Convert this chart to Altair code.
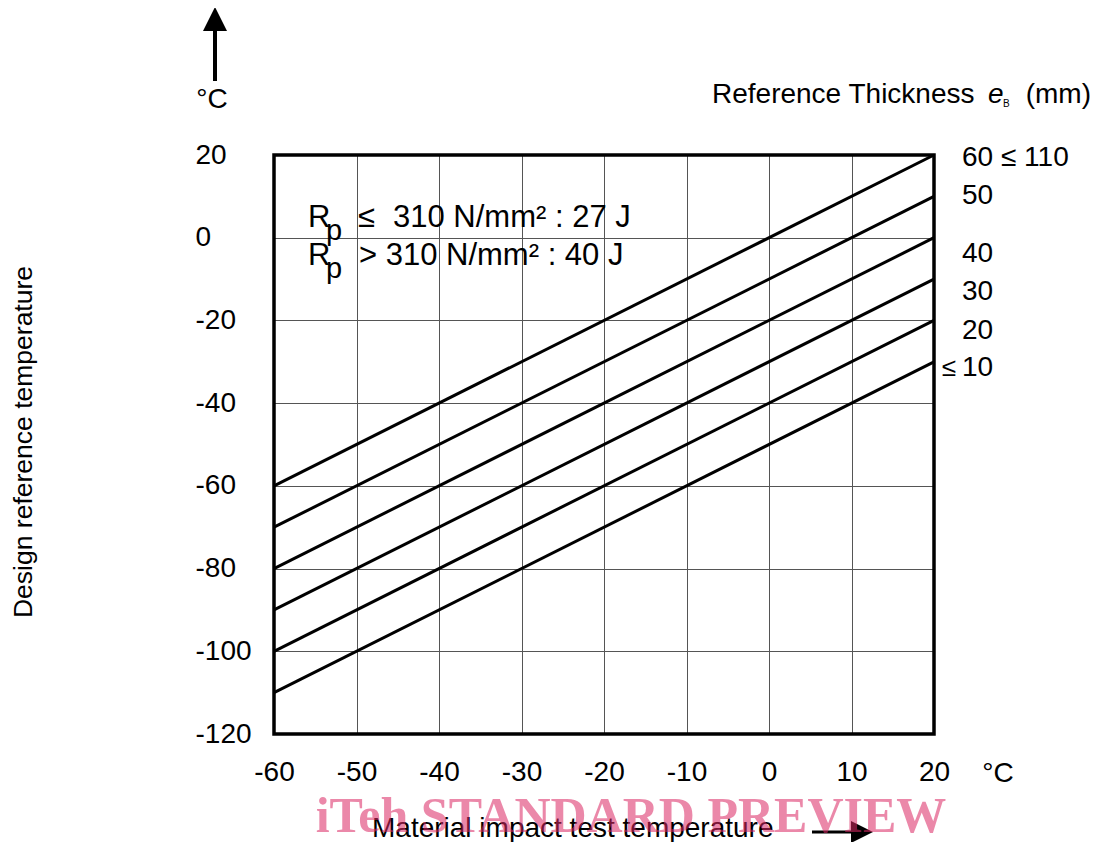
import altair as alt
import pandas as pd

# ---- data -------------------------------------------------------------
x_min, x_max = -60, 20
y_min, y_max = -120, 20
x_ticks = [-60, -50, -40, -30, -20, -10, 0, 10, 20]
y_ticks = [-120, -100, -80, -60, -40, -20, 0, 20]

thickness_labels = ["60 ≤ 110", "50", "40", "30", "20", "10"]
design_at_minus60 = [-60, -70, -80, -90, -100, -110]
design_at_20 = [20, 10, 0, -10, -20, -30]
label_y = [19.3, 10.1, -4.0, -13.2, -22.6, -31.5]

# ---- layout -------------------------------------------------------------
FONT = "Liberation Sans"
W, H = 660, 579
OX, OY = 274, 155          # absolute page position of plot origin
PAD_L, PAD_T = OX - 8, OY - 8
TOTAL_W, TOTAL_H = 1084, 834

lines_df = pd.DataFrame({
    "thickness": thickness_labels,
    "x1": [x_min] * len(thickness_labels),
    "x2": [x_max] * len(thickness_labels),
    "y1": design_at_minus60,
    "y2": design_at_20,
})
labels_df = pd.DataFrame({"t": thickness_labels, "y": label_y, "x": [x_max] * len(thickness_labels)})

xscale = alt.Scale(domain=[x_min, x_max], nice=False, zero=False)
yscale = alt.Scale(domain=[y_min, y_max], nice=False, zero=False)

lines = alt.Chart(lines_df).mark_rule(color="black", strokeWidth=3).encode(
    x=alt.X("x1:Q", scale=xscale, title="",
            axis=alt.Axis(values=x_ticks, grid=True, gridColor="#555", gridWidth=1,
                          domain=False, ticks=False, tickSize=0, labelFont=FONT,
                          labelFontSize=28, labelColor="black", labelPadding=38,
                          labelBaseline="middle", labelFlush=False, labelOverlap=False,
                          labelExpr="'' + datum.value")),
    x2="x2:Q",
    y=alt.Y("y1:Q", scale=yscale, title="",
            axis=alt.Axis(values=y_ticks, grid=True, gridColor="#555", gridWidth=1,
                          domain=False, ticks=False, tickSize=0, labelFont=FONT,
                          labelFontSize=28, labelColor="black", labelPadding=79,
                          labelAlign="left", labelBaseline="middle", labelFlush=False,
                          labelOverlap=False, labelExpr="'' + datum.value")),
    y2="y2:Q",
)

frame = alt.Chart(pd.DataFrame({"a": [0]})).mark_rect(
    fill="transparent", stroke="black", strokeWidth=3.5
).encode(x=alt.datum(x_min), x2=alt.datum(x_max), y=alt.datum(y_min), y2=alt.datum(y_max))

right_labels = alt.Chart(labels_df).mark_text(
    align="left", baseline="middle", dx=28, fontSize=28, font=FONT, color="black"
).encode(x=alt.X("x:Q", scale=xscale), y=alt.Y("y:Q", scale=yscale), text="t:N")

le_label = alt.Chart(labels_df.tail(1)).mark_text(
    align="right", baseline="middle", dx=22, fontSize=26, font=FONT, color="black", text="≤"
).encode(x=alt.X("x:Q", scale=xscale), y=alt.Y("y:Q", scale=yscale))


def ann(text, xa, ya, size=28, align="left", baseline="alphabetic", **kw):
    return alt.Chart(pd.DataFrame({"t": [text]})).mark_text(
        align=align, baseline=baseline, fontSize=size, font=FONT, color="black", **kw
    ).encode(x=alt.value(xa - OX), y=alt.value(ya - OY), text="t:N")


def vrule(xa, ya1, ya2, w=4):
    return alt.Chart(pd.DataFrame({"a": [0]})).mark_rule(color="black", strokeWidth=w).encode(
        x=alt.value(xa - OX), y=alt.value(ya1 - OY), y2=alt.value(ya2 - OY))


def hrule(xa1, xa2, ya, w=3):
    return alt.Chart(pd.DataFrame({"a": [0]})).mark_rule(color="black", strokeWidth=w).encode(
        x=alt.value(xa1 - OX), x2=alt.value(xa2 - OX), y=alt.value(ya - OY))


def head(shape, xa, ya, side):
    return alt.Chart(pd.DataFrame({"a": [0]})).mark_point(
        shape=shape, filled=True, color="black", opacity=1, size=side * side, strokeWidth=0
    ).encode(x=alt.value(xa - OX), y=alt.value(ya - OY))


annotations = [
    # top-left unit with arrow
    vrule(215, 81, 26),
    head("M0,-1L1,1L-1,1Z", 215, 19, 24),
    ann("°C", 212, 108, align="center"),
    # top-right legend title
    ann("Reference Thickness", 712, 103),
    ann("e", 988, 103, fontStyle="italic"),
    ann("B", 1003, 107, size=10),
    ann("(mm)", 1091, 103, align="right"),
    # Rp annotation
    ann("R", 308, 227, size=31),
    ann("p", 326, 240, size=29),
    ann("≤", 358, 227, size=31),
    ann("310 N/mm² : 27 J", 393, 227, size=31),
    ann("R", 308, 265, size=31),
    ann("p", 326, 278, size=29),
    ann("> 310 N/mm² : 40 J", 359, 265, size=31),
    # axis titles / units
    ann("Design reference temperature", 24, 442, size=26.5, align="center",
        baseline="middle", angle=270),
    ann("°C", 998, 782, align="center"),
    ann("Material impact test temperature", 372, 837),
    hrule(812, 852, 832),
    head("M-1,-1L1,0L-1,1Z", 862, 832, 22),
]

watermark = alt.Chart(pd.DataFrame({"t": ["iTeh STANDARD PREVIEW"]})).mark_text(
    align="center", baseline="alphabetic", fontSize=50, font="Liberation Serif",
    fontWeight="bold", color="#dc2864", opacity=0.55
).encode(x=alt.value(631 - OX), y=alt.value(832 - OY), text="t:N")

chart = alt.layer(lines, frame, right_labels, le_label, *annotations, watermark).properties(
    width=W, height=H,
    padding={"left": PAD_L, "top": PAD_T, "right": TOTAL_W - PAD_L - W,
             "bottom": TOTAL_H - PAD_T - H},
    autosize="none",
    background="white",
).configure_view(strokeWidth=0)

chart.save("out.html", embed_options={"renderer": "svg", "actions": False})
